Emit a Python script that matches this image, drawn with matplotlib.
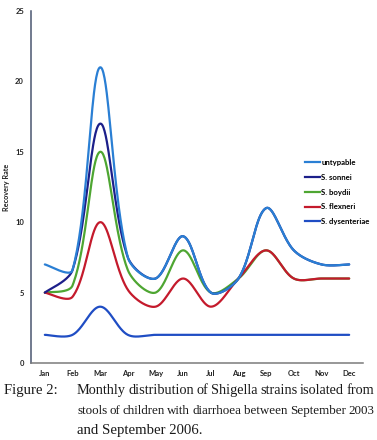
import numpy as np
import matplotlib
matplotlib.use("Agg")
import matplotlib.pyplot as plt
from matplotlib.lines import Line2D

months = ["Jan", "Feb", "Mar", "Apr", "May", "Jun", "Jul", "Aug", "Sep", "Oct", "Nov", "Dec"]
untypable = [7, 6.6, 21, 7.5, 6, 9, 5, 6, 11, 8, 7, 7]
s_sonnei = [5, 6.6, 17, 7.5, 6, 9, 5, 6, 11, 8, 7, 7]
s_boydii = [5, 5.5, 15, 6.6, 5, 8, 5, 6, 8, 6, 6, 6]
s_flexneri = [5, 4.7, 10, 5.2, 4, 6, 4, 6, 8, 6, 6, 6]
s_dysenteriae = [2, 2, 4, 2, 2, 2, 2, 2, 2, 2, 2, 2]
series_names = ["untypable", "S. sonnei", "S. boydii", "S. flexneri", "S. dysenteriae"]
series_values = [untypable, s_sonnei, s_boydii, s_flexneri, s_dysenteriae]
colors = ["#2a7fd4", "#1c1f8a", "#4ea632", "#c41a2c", "#1f4dc4"]
zorders = [6, 5, 3, 4, 3]

caption_label = "Figure 2:"
caption_lines = ["Monthly distribution of Shigella strains isolated from",
                 "stools of children with diarrhoea between September 2003",
                 "and September 2006."]

W, H = 377, 440
fig = plt.figure(figsize=(W / 100, H / 100), dpi=100)
ax = fig.add_axes([31 / W, (H - 363) / H, 332 / W, 352 / H])
ax.set_xlim(-0.5, 11.5)
ax.set_ylim(0, 25)

# pixel scale to emulate Excel smoothing in display space
px_x = 332 / 12.0
px_y = 352 / 25.0


def smooth(xs, ys, n=40):
    P = np.column_stack([np.asarray(xs, float) * px_x, np.asarray(ys, float) * px_y])
    m = len(P)
    out = []
    for i in range(m - 1):
        p0, p3 = P[i], P[i + 1]
        d = np.linalg.norm(p3 - p0)
        if i == 0:
            c1 = p0 + (p3 - p0) / 6
        else:
            dp = np.linalg.norm(P[i] - P[i - 1])
            T = P[i + 1] - P[i - 1]
            c1 = p0 + T * (1 / 3) * d / (dp + d)
        if i + 1 == m - 1:
            c2 = p3 - (p3 - p0) / 6
        else:
            dn = np.linalg.norm(P[i + 2] - P[i + 1])
            T = P[i + 2] - P[i]
            c2 = p3 - T * (1 / 3) * d / (d + dn)
        t = np.linspace(0, 1, n)[:, None]
        seg = ((1 - t) ** 3) * p0 + 3 * ((1 - t) ** 2) * t * c1 + 3 * (1 - t) * t ** 2 * c2 + t ** 3 * p3
        out.append(seg if i == 0 else seg[1:])
    out = np.vstack(out)
    return out[:, 0] / px_x, out[:, 1] / px_y


x = np.arange(len(months))
for name, vals, c, z in zip(series_names, series_values, colors, zorders):
    sx, sy = smooth(x, vals)
    ax.plot(sx, sy, color=c, lw=1.6, zorder=z, solid_capstyle="round")

for s in ["top", "right"]:
    ax.spines[s].set_visible(False)
ax.spines["left"].set_color("#4a5670")
ax.spines["left"].set_linewidth(1.1)
ax.spines["bottom"].set_color("#7a7a7a")
ax.spines["bottom"].set_linewidth(1.1)

tick_font = dict(family="Lato", weight="bold", size=5.5)
ax.set_xticks(x)
ax.set_xticklabels(months, **tick_font)
ax.set_yticks([0, 5, 10, 15, 20, 25])
ax.set_yticklabels(["0", "5", "10", "15", "20", "25"], **tick_font)
ax.tick_params(length=0, pad=5, colors="#222222")
ax.set_ylabel("Recovery Rate", fontfamily="Lato", fontweight="bold", fontsize=5.2, labelpad=4, color="#222222")

handles = [Line2D([0], [0], color=c, lw=1.6) for c in colors]
ax.legend(handles, series_names, loc="upper left", bbox_to_anchor=(274 / 332, (363 - 159) / 352),
          frameon=False, handlelength=1.9, handletextpad=0.2, labelspacing=1.0,
          prop=dict(family="Lato", weight="bold", size=5.6), borderaxespad=0, borderpad=0)

# caption with justified lines
left_px, right_px = 77, 374
fig.canvas.draw()
renderer = fig.canvas.get_renderer()
base_size = 10.6
cap_font = dict(family="Liberation Serif", size=base_size, color="#1a1a1a")
fig.text(4 / W, (H - 394) / H, caption_label, va="baseline", ha="left", **cap_font)


def word_widths(words, size):
    ws = []
    for w_ in words:
        t = fig.text(0, 0, w_, family="Liberation Serif", size=size)
        ws.append(t.get_window_extent(renderer).width)
        t.remove()
    return ws


for li, line in enumerate(caption_lines):
    base = (H - (394 + 20 * li)) / H
    words = line.split(" ")
    if li < len(caption_lines) - 1:
        size = base_size
        widths = word_widths(words, size)
        min_gap = 2.2
        need = sum(widths) + min_gap * (len(words) - 1)
        avail = right_px - left_px
        if need > avail:
            size = size * (avail - min_gap * (len(words) - 1)) / sum(widths)
            widths = word_widths(words, size)
        gap = (avail - sum(widths)) / (len(words) - 1)
        pos = left_px
        for w_, wd in zip(words, widths):
            fig.text(pos / W, base, w_, va="baseline", ha="left",
                     family="Liberation Serif", size=size, color="#1a1a1a")
            pos += wd + gap
    else:
        fig.text(left_px / W, base, line, va="baseline", ha="left", **cap_font)

fig.savefig("out.png", dpi=100, facecolor="white")
